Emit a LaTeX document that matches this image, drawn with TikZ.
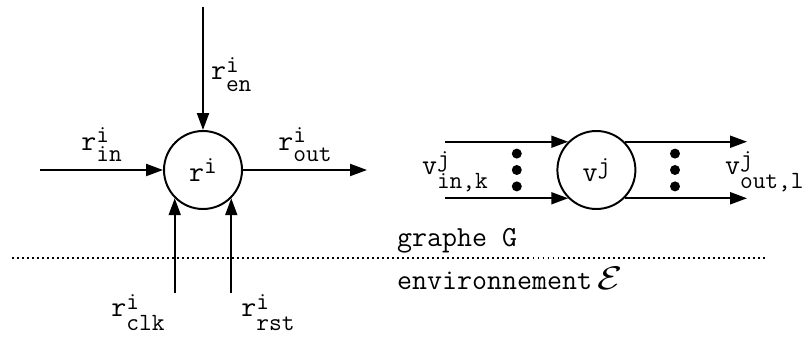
\documentclass[tikz,border=0pt]{standalone}
\usepackage{fontspec}
\usepackage{graphicx}
\usetikzlibrary{arrows.meta,positioning}

% signal names: letter with raised and lowered index
\newcommand{\sigfont}{\fontsize{17.6pt}{18pt}\selectfont}
\newcommand{\sig}[4][0.29cm]{#2\makebox[0pt][l]{\raisebox{0.19cm}{\sigfont #3}}\raisebox{-#1}{\sigfont #4}}
\newcommand{\sigsup}[2]{#1\raisebox{0.19cm}{\sigfont #2}}

\begin{document}
\begin{tikzpicture}[>={Triangle[length=12pt,width=8.5pt]},line width=1.4pt]
\tikzset{reg/.style={circle,draw,minimum size=1.95cm,inner sep=0pt,font=\fontsize{20.7pt}{24pt}\selectfont\ttfamily},
  lbl/.style={font=\fontsize{20.7pt}{24pt}\selectfont\ttfamily,inner sep=5pt},
  foot/.style={lbl,inner xsep=6.5pt,inner ysep=0pt},
  sep/.style={line width=1.4pt,dash pattern=on 1.4pt off 2.16pt}}
\useasboundingbox (0,0) rectangle (20.15,8.4);

% register r^i and its ports
\node[reg] (ri) at (5.075,4.15) {\sigsup{r}{i}};
\coordinate (en) at (5.075,8.23);
\coordinate (in) at (1,4.15);
\coordinate (out) at (9.175,4.15);
\coordinate (floor) at (0,1.07);
\coordinate (clk) at (ri.225 |- floor);
\coordinate (rst) at (ri.315 |- floor);
\draw[->] (in) -- node[lbl,above]{\sig{r}{i}{in}} (ri);
\draw[->] (ri) -- node[lbl,above]{\sig{r}{i}{out}} (out);
\draw[->] (en) -- node[lbl,right,pos=0.55]{\sig{r}{i}{en}} (ri);
\draw[->] (clk) node[foot,below left]{\sig[0.35cm]{r}{i}{clk}} -- (ri.225);
\draw[->] (rst) node[foot,below right]{\sig[0.35cm]{r}{i}{rst}} -- (ri.315);

% vertex v^j with k inputs and l outputs
\node[reg] (vj) at (14.91,4.15) {\sigsup{v}{j}};
\coordinate (inx) at (11.125,0);
\coordinate (outx) at (18.675,0);
\draw[->] (vj.135 -| inx) -- (vj.135);
\draw[->] (vj.225 -| inx) -- (vj.225);
\draw[->] (vj.45) -- (vj.45 -| outx);
\draw[->] (vj.315) -- (vj.315 -| outx);
\foreach \x in {12.92,16.875}
  \foreach \dy in {-0.41,0,0.41}
    \fill (\x,4.15+\dy) circle (0.125);
\node[lbl,anchor=base west] (vin) at (10.35,4.04) {\sig[0.36cm]{v}{j}{in,k}};
\node[lbl,anchor=base west] (vout) at (17.925,4.04) {\sig[0.36cm]{v}{j}{out,l}};

% graph / environment boundary
\coordinate (sepL) at (0.3,1.94);
\coordinate (sepR) at (19.175,1.94);
\draw[sep] (sepL) -- (sepR);
\node[lbl,anchor=base west] (graphe) at (9.73,2.23) {graphe G};
\node[lbl,anchor=base west] (env) at (9.73,1.17) {environnement\hspace{0.2em}\scalebox{1.4}[1.12]{$\mathcal{E}$}};
\end{tikzpicture}
\end{document}
